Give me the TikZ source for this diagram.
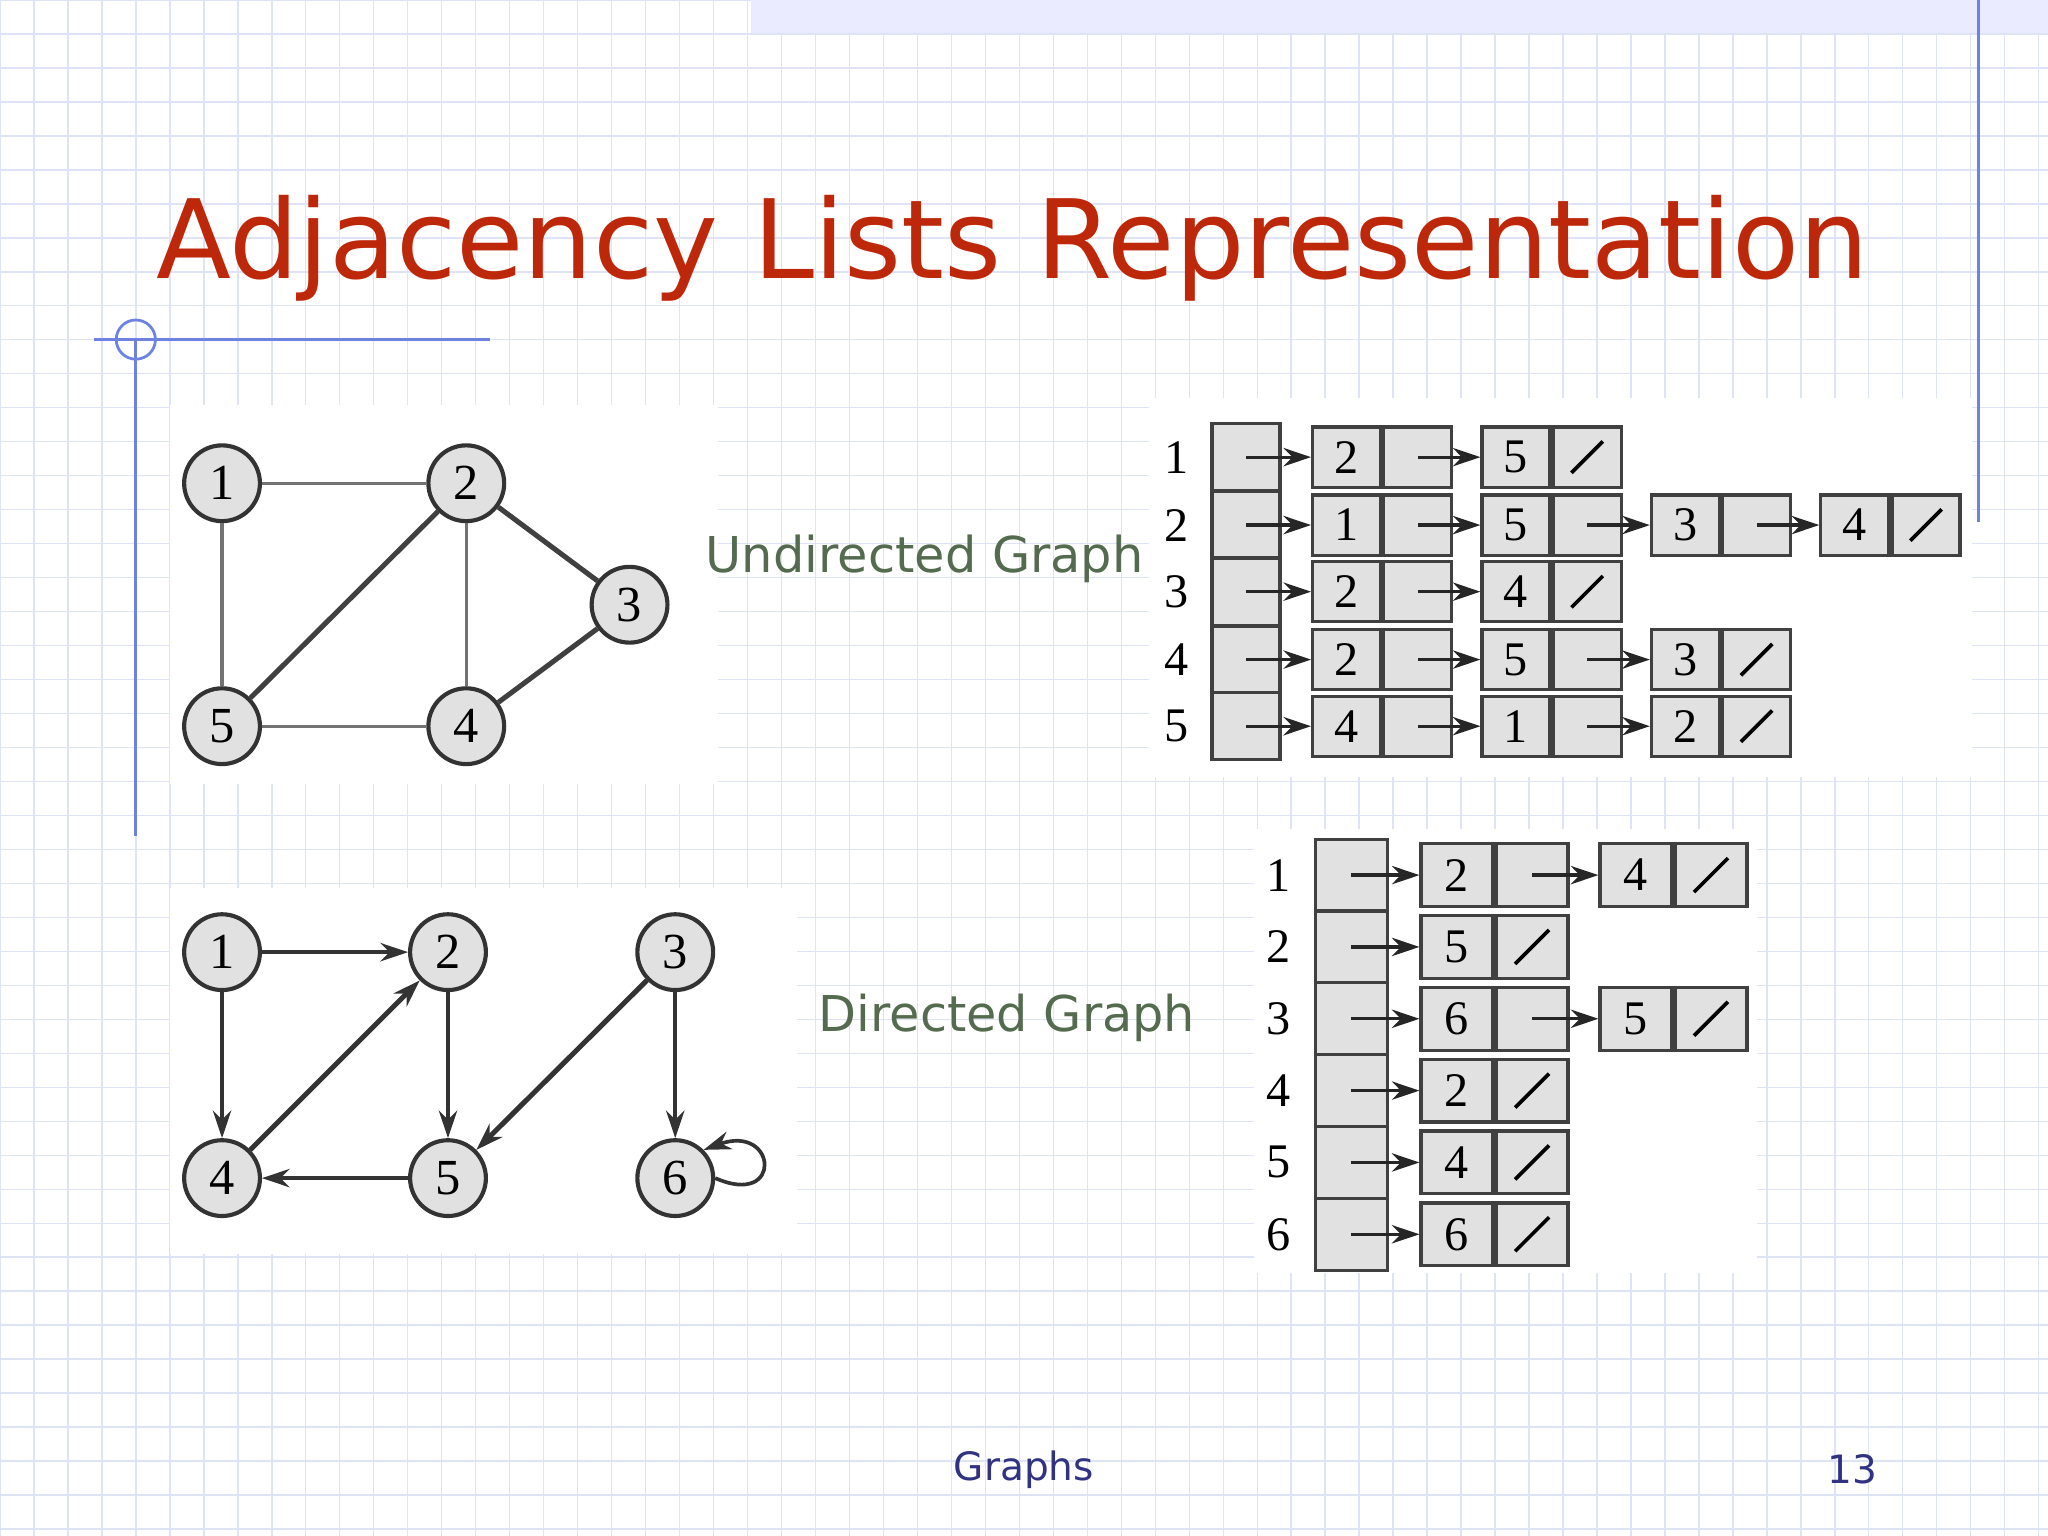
\documentclass[tikz,border=0pt]{standalone}
\usepackage{fontspec}
\setmainfont{DejaVu Sans}
\newfontfamily\numfont{Liberation Serif}
\usetikzlibrary{arrows.meta,calc}
\definecolor{titlered}{RGB}{190,40,10}
\definecolor{labgreen}{RGB}{85,107,80}
\definecolor{footblue}{RGB}{50,50,130}
\definecolor{gridc}{RGB}{222,228,245}
\definecolor{accent}{RGB}{110,130,225}
\definecolor{cellgray}{RGB}{225,225,225}
\tikzset{
  vert/.style={circle,draw=black!80,line width=0.9pt,fill=cellgray,minimum size=0.58cm,inner sep=0,font=\numfont\fontsize{11}{13}\selectfont},
  uedge/.style={line width=1.1pt,black!75},
  dedge/.style={line width=0.8pt,black!80,-{Stealth[length=6pt,width=4pt]}},
  cellbox/.style={draw=black!75,fill=cellgray,line width=0.7pt,inner sep=0,minimum width=0.52cm,font=\numfont\fontsize{10.5}{12}\selectfont},
  larrow/.style={line width=0.7pt,black!85,-{Stealth[length=6pt,width=4pt]}},
  rowlab/.style={font=\numfont\fontsize{10.5}{12}\selectfont},
  panel/.style={fill=white,draw=none}
}
\begin{document}
\begin{tikzpicture}[x=0.01cm,y=-0.01cm]
\useasboundingbox (0,0) rectangle (1568,1176);
\fill[white] (0,0) rectangle (1568,1176);
\draw[gridc,line width=0.3pt] (0,0) grid[step=0.26cm] (1568,1176);
\fill[blue!8] (575,0) rectangle (1568,25);
\draw[accent,line width=0.6pt] (1515,0) -- (1515,400);
\draw[accent,line width=0.6pt] (104,260) -- (104,640);
\draw[accent,line width=0.6pt] (72,260) -- (375,260);
\draw[accent,line width=0.6pt] (104,260) circle (15);
% panels
\fill[panel] (130,310) rectangle (550,600);
\fill[panel] (880,305) rectangle (1510,595);
\fill[panel] (130,680) rectangle (610,960);
\fill[panel] (960,635) rectangle (1345,975);
% title
\node[titlered,anchor=center] (title) at (775,190) {\resizebox{13.1cm}{!}{Adjacency Lists Representation}};
% undirected graph
\node[vert] (u1) at (170,370) {1};
\node[vert] (u2) at (357,370) {2};
\node[vert] (u3) at (482,463) {3};
\node[vert] (u5) at (170,556) {5};
\node[vert] (u4) at (357,556) {4};
\draw[uedge,line width=0.7pt,black!55] (u1)--(u2) (u1)--(u5) (u5)--(u4) (u2)--(u4);
\draw[uedge] (u2)--(u5) (u2)--(u3) (u4)--(u3);
\node[labgreen] (ulab) at (708,428) {\resizebox{3.35cm}{!}{Undirected Graph}};
% undirected lists
\foreach \r/\y/\n/\lst in {1/350/2/{2,5},2/402/4/{1,5,3,4},3/453/2/{2,4},4/505/3/{2,5,3},5/556/3/{4,1,2}}{
  \node[rowlab] (ul\r) at (901,\y) {\r};
  \node[cellbox,minimum height=0.515cm] (uh\r) at (954,\y) {};
  \foreach \v [count=\k] in \lst {
    \node[cellbox,minimum height=0.46cm] (uc\r-\k) at ({1031+(\k-1)*129.7},\y) {\v};
    \node[cellbox,minimum height=0.46cm,anchor=west] (up\r-\k) at (uc\r-\k.east) {};
    \ifnum\k=1
      \draw[larrow] (uh\r.center) -- (uc\r-\k.west);
    \else
      \pgfmathtruncatemacro\km{\k-1}
      \draw[larrow] (up\r-\km.center) -- (uc\r-\k.west);
    \fi
    \ifnum\k=\n
      \draw[line width=0.8pt] ($(up\r-\k.center)+(-12,12)$) -- ($(up\r-\k.center)+(12,-12)$);
    \fi
  }
}
% directed graph
\node[vert] (d1) at (170,729) {1};
\node[vert] (d2) at (343,729) {2};
\node[vert] (d3) at (517,729) {3};
\node[vert] (d4) at (170,902) {4};
\node[vert] (d5) at (343,902) {5};
\node[vert] (d6) at (517,902) {6};
\draw[dedge] (d1)--(d2);
\draw[dedge] (d1)--(d4);
\draw[dedge,line width=1.1pt] (d4)--(d2);
\draw[dedge] (d2)--(d5);
\draw[dedge] (d5)--(d4);
\draw[dedge,line width=1.1pt] (d3)--(d5);
\draw[dedge] (d3)--(d6);
\draw[dedge] (d6.east) .. controls (600,925) and (595,860) .. (d6.north east);
\node[labgreen] (dlab) at (771,779) {\resizebox{2.88cm}{!}{Directed Graph}};
% directed lists
\foreach \r/\y/\n/\lst in {1/670/2/{2,4},2/725/1/{5},3/780/2/{6,5},4/835/1/{2},5/890/1/{4},6/945/1/{6}}{
  \node[rowlab] (dl\r) at (979,\y) {\r};
  \node[cellbox,minimum width=0.55cm,minimum height=0.55cm] (dh\r) at (1034.5,\y) {};
  \foreach \v [count=\k] in \lst {
    \node[cellbox,minimum width=0.55cm,minimum height=0.48cm] (dc\r-\k) at ({1115.5+(\k-1)*137},\y) {\v};
    \node[cellbox,minimum width=0.55cm,minimum height=0.48cm,anchor=west] (dp\r-\k) at (dc\r-\k.east) {};
    \ifnum\k=1
      \draw[larrow] (dh\r.center) -- (dc\r-\k.west);
    \else
      \pgfmathtruncatemacro\km{\k-1}
      \draw[larrow] (dp\r-\km.center) -- (dc\r-\k.west);
    \fi
    \ifnum\k=\n
      \draw[line width=0.8pt] ($(dp\r-\k.center)+(-13,13)$) -- ($(dp\r-\k.center)+(13,-13)$);
    \fi
  }
}
% footer
\node[footblue,font=\fontsize{8.5}{10}\selectfont] (foot) at (784,1125) {Graphs};
\node[footblue,font=\fontsize{8.5}{10}\selectfont] (pg) at (1418,1125) {13};
\end{tikzpicture}
\end{document}
